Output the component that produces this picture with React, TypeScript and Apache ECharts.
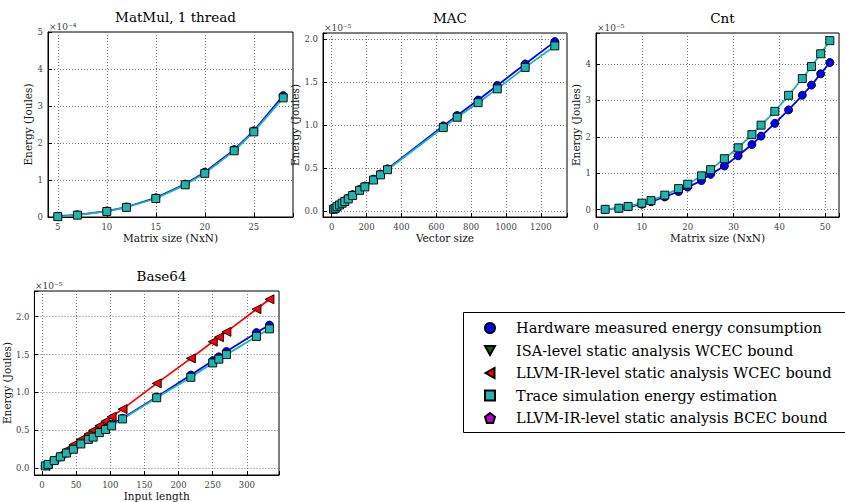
import React, { useEffect, useRef } from 'react';
import * as echarts from 'echarts';

// ---------------- data ----------------
// MatMul, 1 thread (energy in units of 1e-4 J)
const matmulSizes = [5, 7, 10, 12, 15, 18, 20, 23, 25, 28];
const matmulHw = [0.02, 0.06, 0.16, 0.27, 0.52, 0.89, 1.21, 1.82, 2.33, 3.28];
const matmulTrace = [0.01, 0.05, 0.15, 0.26, 0.5, 0.87, 1.18, 1.79, 2.3, 3.22];

// MAC (energy in units of 1e-5 J)
const macSizes = [10, 20, 30, 45, 60, 75, 95, 120, 160, 190, 240, 280, 320, 640, 720, 840, 950, 1110, 1280];
const macHw = [0.02, 0.03, 0.05, 0.07, 0.09, 0.12, 0.15, 0.19, 0.25, 0.29, 0.37, 0.43, 0.49, 0.99, 1.11, 1.29, 1.46, 1.71, 1.97];
const macTrace = [0.02, 0.03, 0.05, 0.07, 0.09, 0.11, 0.14, 0.18, 0.24, 0.28, 0.36, 0.42, 0.48, 0.97, 1.09, 1.26, 1.42, 1.67, 1.92];

// Cnt (energy in units of 1e-5 J)
const cntSizes = [2, 5, 7, 10, 12, 15, 18, 20, 23, 25, 28, 31, 34, 36, 39, 42, 45, 47, 49, 51];
const cntHw = [0.01, 0.04, 0.08, 0.15, 0.22, 0.35, 0.5, 0.62, 0.8, 0.97, 1.2, 1.48, 1.79, 2.02, 2.37, 2.74, 3.14, 3.42, 3.73, 4.04];
const cntTrace = [0.01, 0.04, 0.09, 0.18, 0.25, 0.4, 0.58, 0.7, 0.93, 1.1, 1.4, 1.7, 2.06, 2.32, 2.7, 3.14, 3.6, 3.93, 4.28, 4.64];

// Base64 (energy in units of 1e-5 J)
const b64Lengths = [5, 9, 18, 27, 36, 46, 57, 68, 75, 84, 93, 102, 118, 168, 218, 250, 259, 270, 314, 333];
const b64Llvm = [0.03, 0.06, 0.12, 0.18, 0.24, 0.31, 0.38, 0.45, 0.5, 0.56, 0.62, 0.68, 0.78, 1.12, 1.45, 1.67, 1.73, 1.8, 2.1, 2.23];
const b64Hw = [0.03, 0.05, 0.1, 0.15, 0.2, 0.26, 0.33, 0.39, 0.43, 0.48, 0.53, 0.58, 0.66, 0.94, 1.23, 1.42, 1.47, 1.54, 1.79, 1.89];
const b64Trace = [0.03, 0.05, 0.1, 0.15, 0.2, 0.25, 0.32, 0.38, 0.41, 0.47, 0.51, 0.56, 0.65, 0.93, 1.2, 1.39, 1.44, 1.5, 1.74, 1.84];

const titles = ['MatMul, 1 thread', 'MAC', 'Cnt', 'Base64'];
const xNames = ['Matrix size (NxN)', 'Vector size', 'Matrix size (NxN)', 'Input length'];
const yName = 'Energy (Joules)';
const multipliers = ['×10⁻⁴', '×10⁻⁵', '×10⁻⁵', '×10⁻⁵'];

const legendNames = [
  'Hardware measured energy consumption',
  'ISA-level static analysis WCEC bound',
  'LLVM-IR-level static analysis WCEC bound',
  'Trace simulation energy estimation',
  'LLVM-IR-level static analysis BCEC bound',
];

// ---------------- styling ----------------
const SERIF = "'DejaVu Serif', serif";
const TICKFONT = "'DejaVu Serif', serif";
const BLUE = '#0000ff';
const GREEN = '#006400';
const RED = '#ff0000';
const CYAN = '#1fb5ad';
const MAGENTA = '#bf00bf';

const SYM_CIRCLE = 'circle';
const SYM_DOWN = 'path://M0,0 L10,0 L5,9 Z';
const SYM_LEFT = 'path://M0,5 L9,0 L9,10 Z';
const SYM_SQUARE = 'rect';
const SYM_PENT = 'path://M5,0 L10,3.8 L8.1,10 L1.9,10 L0,3.8 Z';

const grids = [
  { left: 48, top: 32, width: 245, height: 185 },
  { left: 323, top: 33, width: 244, height: 184 },
  { left: 596, top: 33, width: 243, height: 184 },
  { left: 34, top: 291, width: 245, height: 187 },
];

function stepFormatter(step: number, decimals: number) {
  return (v: number) => {
    const r = v / step;
    if (Math.abs(r - Math.round(r)) > 1e-6) return '';
    return v.toFixed(decimals);
  };
}

function axisCommon(gi: number, min: number, max: number, splitNumber: number, step: number, decimals: number) {
  return {
    type: 'value',
    gridIndex: gi,
    min,
    max,
    splitNumber,
    axisLine: { show: true, onZero: false, lineStyle: { color: '#000', width: 1 } },
    axisTick: { show: true, inside: true, length: 4, lineStyle: { color: '#000', width: 1 } },
    axisLabel: {
      fontFamily: TICKFONT,
      fontSize: 8.5,
      color: '#444',
      margin: 5,
      formatter: stepFormatter(step, decimals),
    },
    splitLine: { show: true, lineStyle: { color: '#777', width: 1, type: [1, 2] } },
  };
}

function xAxis(gi: number, min: number, max: number, splitNumber: number, step: number, decimals: number) {
  return {
    ...axisCommon(gi, min, max, splitNumber, step, decimals),
    position: 'bottom',
    name: xNames[gi],
    nameLocation: 'middle',
    nameGap: 15,
    nameTextStyle: { fontFamily: SERIF, fontSize: 10.5, color: '#111' },
  };
}

function yAxis(gi: number, min: number, max: number, splitNumber: number, step: number, decimals: number, gap: number) {
  return {
    ...axisCommon(gi, min, max, splitNumber, step, decimals),
    position: 'left',
    name: yName,
    nameLocation: 'middle',
    nameGap: gap,
    nameTextStyle: { fontFamily: SERIF, fontSize: 10.5, color: '#111' },
  };
}

function pairs(xs: number[], ys: number[]) {
  return xs.map((x, i) => [x, ys[i]]);
}

function series(name: string, gi: number, xs: number[], ys: number[], symbol: string, color: string, size: number, z: number) {
  return {
    type: 'line',
    name,
    xAxisIndex: gi,
    yAxisIndex: gi,
    data: pairs(xs, ys),
    symbol,
    symbolSize: size,
    showSymbol: true,
    lineStyle: { color, width: 1.8 },
    itemStyle: { color, borderColor: '#000', borderWidth: 0.9 },
    z,
    emphasis: { disabled: true },
  };
}

export default function App() {
  const ref = useRef<HTMLDivElement>(null);

  useEffect(() => {
    if (!ref.current) return;
    const chart = echarts.init(ref.current, null, { renderer: 'svg' });

    const [hwN, isaN, llvmN, traceN, bcecN] = legendNames;

    const option = {
      animation: false,
      backgroundColor: '#ffffff',
      title: titles.map((t, i) => ({
        text: t,
        left: grids[i].left + grids[i].width / 2,
        top: grids[i].top - 27,
        textAlign: 'center',
        textStyle: { fontFamily: SERIF, fontSize: 13.5, fontWeight: 'normal', color: '#000' },
      })),
      grid: grids.map((g) => ({
        ...g,
        show: true,
        borderColor: '#000',
        borderWidth: 1,
        backgroundColor: 'transparent',
        containLabel: false,
      })),
      xAxis: [
        xAxis(0, 4, 29, 5, 5, 0),
        xAxis(1, -50, 1350, 7, 200, 0),
        xAxis(2, 0, 53, 5, 10, 0),
        xAxis(3, -11, 347, 7, 50, 0),
      ],
      yAxis: [
        yAxis(0, 0, 5, 5, 1, 0, 11),
        yAxis(1, -0.07, 2.07, 4, 0.5, 1, 18),
        yAxis(2, -0.2, 4.85, 5, 1, 0, 11),
        yAxis(3, -0.09, 2.34, 5, 0.5, 1, 18),
      ],
      legend: {
        show: true,
        orient: 'vertical',
        left: 479,
        top: 315,
        itemWidth: 10,
        itemHeight: 10,
        itemGap: 6.5,
        selectedMode: false,
        textStyle: { fontFamily: SERIF, fontSize: 14.5, color: '#000', lineHeight: 16, padding: [0, 0, 0, 16] },
        data: [
          { name: hwN, icon: SYM_CIRCLE },
          { name: isaN, icon: SYM_DOWN },
          { name: llvmN, icon: SYM_LEFT },
          { name: traceN, icon: SYM_SQUARE },
          { name: bcecN, icon: SYM_PENT },
        ],
      },
      graphic: [
        {
          type: 'rect',
          shape: { x: 463.5, y: 312.5, width: 400, height: 120 },
          style: { fill: '#fff', stroke: '#000', lineWidth: 1 },
          z: -1,
        },
        ...multipliers.map((m, i) => ({
          type: 'text',
          x: grids[i].left + 1,
          y: grids[i].top - 10,
          style: { text: m, fontFamily: TICKFONT, fontSize: 9, fill: '#444' },
        })),
      ],
      series: [
        // MatMul
        series(hwN, 0, matmulSizes, matmulHw, SYM_CIRCLE, BLUE, 8, 3),
        series(traceN, 0, matmulSizes, matmulTrace, SYM_SQUARE, CYAN, 8, 5),
        // MAC
        series(hwN, 1, macSizes, macHw, SYM_CIRCLE, BLUE, 8, 3),
        series(traceN, 1, macSizes, macTrace, SYM_SQUARE, CYAN, 8, 5),
        // Cnt
        series(hwN, 2, cntSizes, cntHw, SYM_CIRCLE, BLUE, 8, 3),
        series(traceN, 2, cntSizes, cntTrace, SYM_SQUARE, CYAN, 8, 5),
        // Base64
        series(hwN, 3, b64Lengths, b64Hw, SYM_CIRCLE, BLUE, 8, 3),
        series(llvmN, 3, b64Lengths, b64Llvm, SYM_LEFT, RED, 9, 4),
        series(traceN, 3, b64Lengths, b64Trace, SYM_SQUARE, CYAN, 8, 5),
        // legend-only entries (no visible data in the panels)
        series(isaN, 0, [], [], SYM_DOWN, GREEN, 9, 2),
        series(bcecN, 0, [], [], SYM_PENT, MAGENTA, 9, 2),
      ],
    };

    chart.setOption(option as any);
    return () => chart.dispose();
  }, []);

  return (
    <div
      ref={ref}
      style={{ position: 'absolute', left: 0, top: 0, width: 845, height: 502, background: '#fff' }}
    />
  );
}
